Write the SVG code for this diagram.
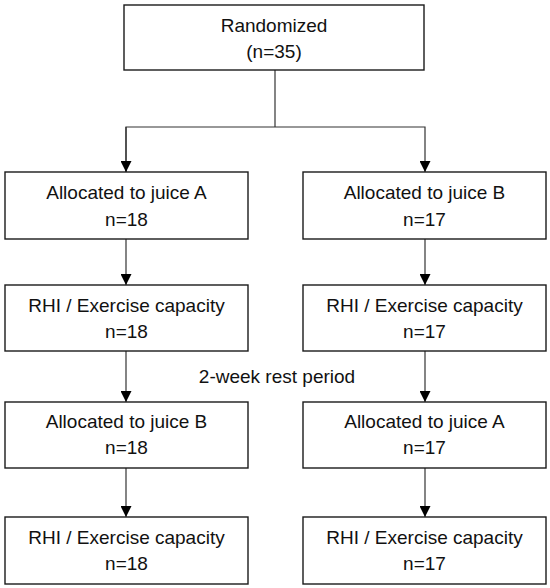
<svg xmlns="http://www.w3.org/2000/svg" width="550" height="588" viewBox="0 0 550 588">
<style>
.box{fill:#fff;stroke:#1a1a1a;stroke-width:1.4}
.t{font-family:"Liberation Sans",Arial,sans-serif;font-size:19px;fill:#111;text-anchor:middle}
.c{fill:none;stroke:#333;stroke-width:1.2}
</style>
<defs>
<marker id="ah" markerUnits="userSpaceOnUse" markerWidth="11" markerHeight="11" viewBox="0 0 11 11" refX="5.5" refY="11" orient="auto-start-reverse">
<path d="M0,0 L11,0 L5.5,11 Z" fill="#000" transform="rotate(-90 5.5 5.5)"/>
</marker>
<marker id="a" markerUnits="userSpaceOnUse" markerWidth="11" markerHeight="11" viewBox="0 0 11 11" refX="11" refY="5.5" orient="auto">
<path d="M0,0 L11,5.5 L0,11 Z" fill="#000"/>
</marker>
</defs>
<g id="connectors">
<polyline class="c" points="275,70 275,127"/>
<polyline class="c" points="126,172 126,127 425,127 425,172" marker-end="url(#a)"/>
<line class="c" x1="126" y1="127" x2="126" y2="172" marker-end="url(#a)"/>
<line class="c" x1="126" y1="239" x2="126" y2="285" marker-end="url(#a)"/>
<line class="c" x1="425" y1="239" x2="425" y2="285" marker-end="url(#a)"/>
<line class="c" x1="126" y1="351" x2="126" y2="402" marker-end="url(#a)"/>
<line class="c" x1="425" y1="351" x2="425" y2="402" marker-end="url(#a)"/>
<line class="c" x1="126" y1="468" x2="126" y2="517" marker-end="url(#a)"/>
<line class="c" x1="425" y1="468" x2="425" y2="517" marker-end="url(#a)"/>
</g>
<g id="randomized">
<rect class="box" x="124" y="5" width="300" height="65"/>
<text class="t" x="274" y="32">Randomized</text>
<text class="t" x="274" y="58">(n=35)</text>
</g>
<g id="allocA1">
<rect class="box" x="5" y="172" width="243" height="67"/>
<text class="t" x="126.5" y="199">Allocated to juice A</text>
<text class="t" x="126.5" y="225.5">n=18</text>
</g>
<g id="allocB1">
<rect class="box" x="303" y="172" width="243" height="67"/>
<text class="t" x="424.5" y="199">Allocated to juice B</text>
<text class="t" x="424.5" y="225.5">n=17</text>
</g>
<g id="rhiA1">
<rect class="box" x="5" y="285" width="243" height="66"/>
<text class="t" x="126.5" y="311.5">RHI / Exercise capacity</text>
<text class="t" x="126.5" y="338">n=18</text>
</g>
<g id="rhiB1">
<rect class="box" x="303" y="285" width="243" height="66"/>
<text class="t" x="424.5" y="311.5">RHI / Exercise capacity</text>
<text class="t" x="424.5" y="338">n=17</text>
</g>
<g id="rest">
<text class="t" x="277" y="382.5">2-week rest period</text>
</g>
<g id="allocB2">
<rect class="box" x="5" y="402" width="243" height="66"/>
<text class="t" x="126.5" y="427.5">Allocated to juice B</text>
<text class="t" x="126.5" y="454">n=18</text>
</g>
<g id="allocA2">
<rect class="box" x="303" y="402" width="243" height="66"/>
<text class="t" x="424.5" y="427.5">Allocated to juice A</text>
<text class="t" x="424.5" y="454">n=17</text>
</g>
<g id="rhiA2">
<rect class="box" x="5" y="517" width="243" height="67"/>
<text class="t" x="126.5" y="543.5">RHI / Exercise capacity</text>
<text class="t" x="126.5" y="569.5">n=18</text>
</g>
<g id="rhiB2">
<rect class="box" x="303" y="517" width="243" height="67"/>
<text class="t" x="424.5" y="543.5">RHI / Exercise capacity</text>
<text class="t" x="424.5" y="569.5">n=17</text>
</g>
</svg>
